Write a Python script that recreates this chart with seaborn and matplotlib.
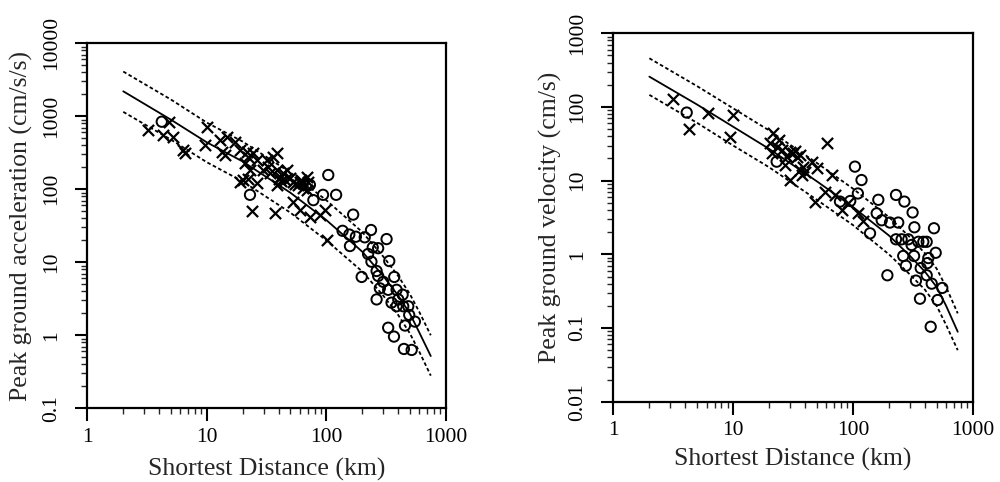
import numpy as np
import pandas as pd
import seaborn as sns
import matplotlib
matplotlib.use("Agg")
import matplotlib.pyplot as plt
from matplotlib.ticker import LogLocator, NullFormatter

# Valeurs (distance en km)
# --- PGA (cm/s/s)
pga_x_dist = [3.2, 4.8, 4.3, 5.2, 6.3, 6.6, 10.0, 9.7, 12.9, 13.3, 14.7, 17.2, 14.2,
              19.0, 21.6, 22.2, 20.9, 24.5, 26.1, 23.0, 20.2, 19.0, 22.2, 26.1, 23.8,
              31.7, 32.7, 36.0, 38.4, 29.7, 33.8, 38.4, 41, 43.6, 46.5, 45, 49.6, 53,
              38.4, 37.2, 60.2, 64.2, 58.3, 68.4, 70.7, 64.2, 68.4, 53, 60, 73, 88.5,
              97.5, 101, 40, 42, 55, 62]
pga_x_val = [650, 840, 555, 515, 345, 315, 720, 405, 470, 327, 525, 450, 295,
             346, 327, 280, 227, 311, 252, 184, 134, 127, 140, 121, 51,
             252, 205, 280, 311, 184, 166, 184, 149, 166, 184, 134, 142, 127,
             115, 47, 127, 121, 115, 149, 127, 103, 98, 68, 52, 42, 44,
             52, 20, 140, 130, 120, 135]
pga_o_dist = [4.2, 23, 73, 104, 78, 94, 121, 168, 137, 156, 177, 158, 210, 237,
              320, 245, 272, 224, 239, 337, 264, 272, 198, 371, 300, 281, 330,
              264, 352, 388, 436, 401, 388, 441, 486, 495, 552, 456, 330, 369,
              447, 519]
pga_o_val = [843, 84, 115, 157, 71, 84, 84, 45, 27, 24, 22.4, 16.7, 22, 27.7,
             20.8, 16, 15.6, 13, 10.2, 10.4, 7.6, 6.5, 6.3, 6.3, 5.4, 4.4, 4.2,
             3.1, 2.8, 4.2, 3.6, 3.1, 2.5, 2.5, 2.5, 1.9, 1.54, 1.36, 1.27, 0.96,
             0.65, 0.63]

# --- PGV (cm/s)
pgv_x_dist = [3.13, 4.28, 6.2, 10, 9.4, 21.7, 20.3, 23.1, 21, 25.4, 28, 29.9, 31.8,
              34, 36.2, 27.1, 29.9, 36.2, 37.4, 38.6, 45.3, 49.9, 48.3, 60.4, 66.5,
              58.5, 71, 80.5, 91.6, 111, 122, 24, 33, 40]
pgv_x_val = [127, 51, 82, 78, 38.7, 45, 32, 29, 23.5, 26, 21, 24.8, 23.5,
             21, 22.3, 16.3, 10.2, 14, 11.9, 15.5, 18.1, 14.7, 5.2, 32, 12,
             7.1, 6.4, 4.0, 4.9, 3.6, 2.8, 36, 25, 13]
pgv_o_dist = [4.1, 23.1, 104, 118, 110, 78, 95, 163, 158, 174, 139, 204, 239, 194,
              229, 269, 315, 326, 475, 229, 255, 290, 352, 387, 413, 309, 491,
              263, 324, 426, 277, 368, 418, 413, 336, 455, 557, 363, 510, 446]
pgv_o_val = [84, 18.1, 15.5, 10.2, 6.7, 5.2, 5.3, 5.5, 3.6, 2.9, 1.93, 2.7, 2.7, 0.52,
             6.4, 5.2, 3.7, 2.33, 2.26, 1.6, 1.6, 1.6, 1.48, 1.48, 1.48, 1.34, 1.05,
             0.95, 0.95, 0.89, 0.70, 0.65, 0.76, 0.52, 0.44, 0.40, 0.35, 0.25, 0.24,
             0.104]

# Courbes (médiane et +/- 1 sigma)
curve_dist = [2, 5, 10, 20, 50, 100, 200, 300, 400, 500, 600, 750]
pga_mid = [2200, 900, 440, 240, 90, 38, 14, 6.5, 3.5, 2.0, 1.1, 0.52]
pga_up = [4100, 1700, 820, 450, 170, 71, 26, 12, 6.5, 3.7, 2.1, 1.0]
pga_lo = [1150, 480, 235, 128, 48, 20, 7.5, 3.5, 1.9, 1.07, 0.6, 0.28]
pgv_mid = [258, 108, 54, 27, 9.8, 4.4, 1.8, 0.95, 0.58, 0.36, 0.2, 0.089]
pgv_up = [458, 192, 96, 48, 17.4, 7.8, 3.2, 1.7, 1.03, 0.64, 0.36, 0.158]
pgv_lo = [146, 61, 30, 15.2, 5.5, 2.5, 1.0, 0.53, 0.33, 0.2, 0.11, 0.05]

x_ticks = [1, 10, 100, 1000]
x_tick_labels = ["1", "10", "100", "1000"]
pga_ticks = [0.1, 1, 10, 100, 1000, 10000]
pga_tick_labels = ["0.1", "1", "10", "100", "1000", "10000"]
pgv_ticks = [0.01, 0.1, 1, 10, 100, 1000]
pgv_tick_labels = ["0.01", "0.1", "1", "10", "100", "1000"]

sns.set_theme(style="ticks")
plt.rcParams['font.family'] = ['Liberation Serif', 'DejaVu Serif']

fig = plt.figure(figsize=(10, 4.82), dpi=100)
ax1 = fig.add_axes([0.0873, 0.1529, 0.3584, 0.7573])
ax2 = fig.add_axes([0.6133, 0.1666, 0.3594, 0.7643])


def draw_panel(ax, xd, xv, od, ov, mid, up, lo, yticks, ylabels, ylim, ylab):
    ax.set_xscale('log')
    ax.set_yscale('log')
    for cy, ls in [(mid, '-'), (up, (0, (2, 1.4))), (lo, (0, (2, 1.4)))]:
        sns.lineplot(x=curve_dist, y=cy, color='black', lw=1.3, linestyle=ls,
                     estimator=None, sort=False, ax=ax)
    sns.scatterplot(x=xd, y=xv, marker='x', color='black', s=65, linewidth=1.6, ax=ax)
    sns.scatterplot(x=od, y=ov, marker='o', facecolor='none', edgecolor='black',
                    s=55, linewidth=1.4, ax=ax)
    ax.set_xlim(1, 1000)
    ax.set_ylim(*ylim)
    ax.set_xticks(x_ticks)
    ax.set_xticklabels(x_tick_labels)
    ax.set_yticks(yticks)
    ax.set_yticklabels(ylabels, rotation=90, va='center')
    ax.xaxis.set_minor_locator(LogLocator(base=10, subs=np.arange(2, 10)))
    ax.yaxis.set_minor_locator(LogLocator(base=10, subs=np.arange(2, 10)))
    ax.xaxis.set_minor_formatter(NullFormatter())
    ax.yaxis.set_minor_formatter(NullFormatter())
    ax.tick_params(which='major', direction='out', length=9, width=1.5,
                   labelsize=15.5, colors='black', top=False, right=False)
    ax.tick_params(which='minor', direction='out', length=4, width=1.0,
                   top=False, right=False)
    ax.tick_params(axis='y', which='major', pad=10)
    ax.tick_params(axis='x', which='major', pad=5)
    for s in ax.spines.values():
        s.set_linewidth(1.6)
        s.set_color('black')
    ax.set_xlabel("Shortest Distance (km)", fontsize=18.5)
    ax.set_ylabel(ylab, fontsize=18.5)
    ax.grid(False)


draw_panel(ax1, pga_x_dist, pga_x_val, pga_o_dist, pga_o_val,
           pga_mid, pga_up, pga_lo, pga_ticks, pga_tick_labels, (0.1, 10000),
           "Peak ground acceleration (cm/s/s)")
draw_panel(ax2, pgv_x_dist, pgv_x_val, pgv_o_dist, pgv_o_val,
           pgv_mid, pgv_up, pgv_lo, pgv_ticks, pgv_tick_labels, (0.01, 1000),
           "Peak ground velocity (cm/s)")

ax1.yaxis.set_label_coords(-0.152, 0.5)
ax2.yaxis.set_label_coords(-0.143, 0.5)
ax1.xaxis.set_label_coords(0.5, -0.135)
ax2.xaxis.set_label_coords(0.5, -0.125)

fig.savefig("out.png", dpi=100, facecolor='white')
